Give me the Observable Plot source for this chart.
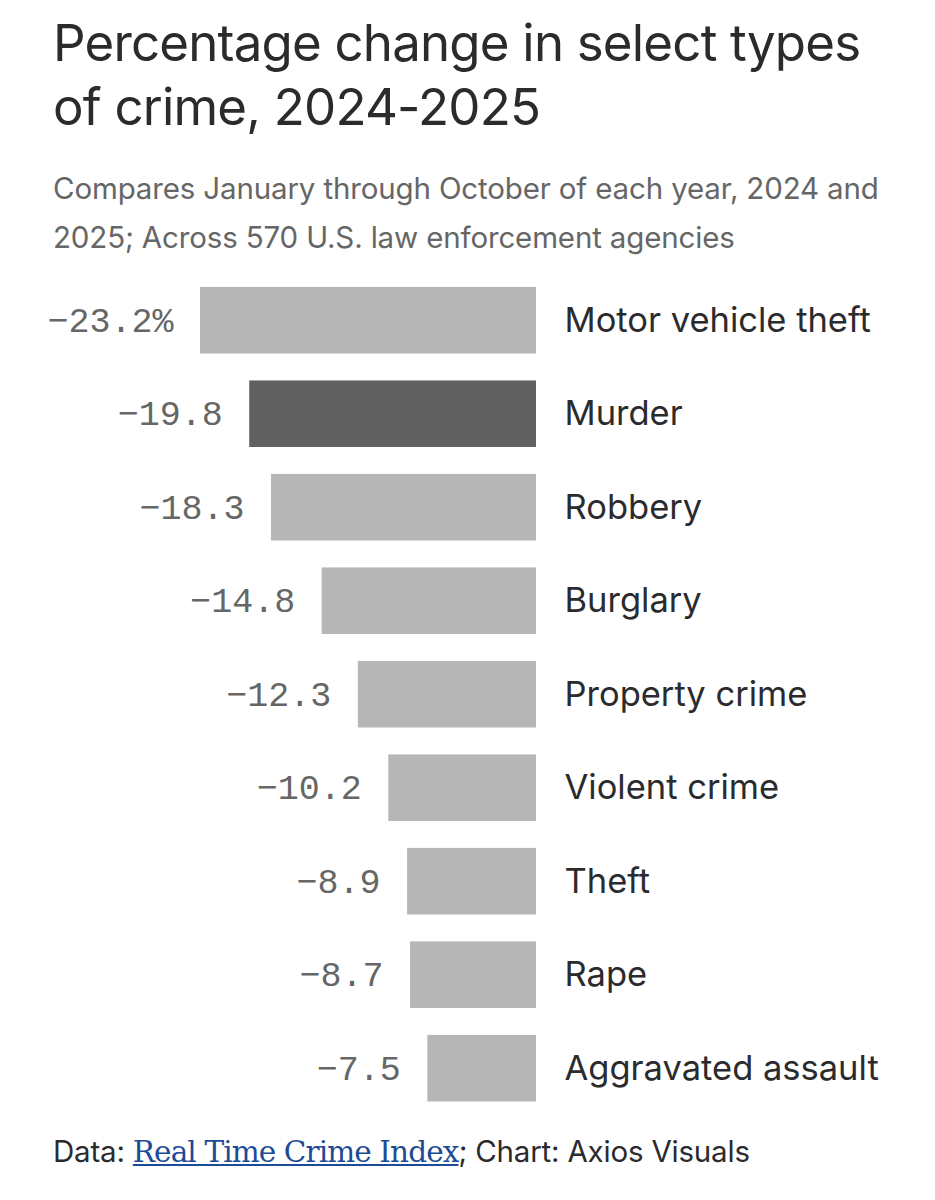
<!DOCTYPE html>
<html>
<head>
<meta charset="utf-8">
<script src="https://cdn.jsdelivr.net/npm/d3@7"></script>
<script src="https://cdn.jsdelivr.net/npm/@observablehq/plot@0.6"></script>
<style>
  html, body { margin: 0; padding: 0; background: #fff; }
  body { width: 935px; height: 1200px; position: relative; overflow: hidden; font-family: Inter, "Noto Sans", sans-serif; }
  #title { position: absolute; left: 53px; top: 11px; white-space: nowrap; font-size: 51px; line-height: 64px; color: #2b2b2e; letter-spacing: -0.8px; font-weight: 400; }
  #subtitle { position: absolute; left: 53px; top: 164px; white-space: nowrap; font-size: 29.5px; line-height: 49px; color: #666; letter-spacing: -0.15px; }
  #chart { position: absolute; left: 0; top: 255px; }
  #footer { position: absolute; left: 53px; top: 1133px; font-size: 29.5px; color: #2b2b2e; letter-spacing: -0.2px; white-space: nowrap; }
  #footer a { font-family: "DejaVu Serif", "Liberation Serif", serif; color: #1d4b96; text-decoration: underline; letter-spacing: -0.9px; }
</style>
</head>
<body>
<div id="title">Percentage change in select types<br>of crime, 2024-2025</div>
<div id="subtitle">Compares January through October of each year, 2024 and<br>2025; Across 570 U.S. law enforcement agencies</div>
<div id="chart"></div>
<div id="footer">Data: <a href="#">Real Time Crime Index</a>; Chart: Axios Visuals</div>
<script>
const categories = ["Motor vehicle theft", "Murder", "Robbery", "Burglary", "Property crime", "Violent crime", "Theft", "Rape", "Aggravated assault"];
const values = [-23.2, -19.8, -18.3, -14.8, -12.3, -10.2, -8.9, -8.7, -7.5];
const valueLabels = ["−23.2%", "−19.8", "−18.3", "−14.8", "−12.3", "−10.2", "−8.9", "−8.7", "−7.5"];
const highlight = "Murder";

const data = categories.map((c, i) => ({category: c, value: values[i], label: valueLabels[i]}));

const chart = Plot.plot({
  width: 935,
  height: 880,
  marginLeft: 200,
  marginRight: 399,
  marginTop: 5,
  marginBottom: 6.6,
  x: {domain: [-23.2, 0], axis: null},
  y: {domain: categories, padding: 0.288, round: false, axis: null},
  style: {background: "transparent"},
  marks: [
    Plot.barX(data, {
      x1: 0, x2: "value", y: "category",
      fill: d => d.category === highlight ? "#616161" : "#b6b6b6"
    }),
    Plot.text(data, {
      x: "value", y: "category", text: "label",
      textAnchor: "end", dx: -27,
      fontFamily: "Liberation Mono, DejaVu Sans Mono, monospace",
      fontSize: 35, fill: "#666"
    }),
    Plot.text(data, {
      x: 0, y: "category", text: "category",
      textAnchor: "start", dx: 28,
      fontFamily: "Inter, Noto Sans, sans-serif",
      fontSize: 34.5,
      letterSpacing: "-0.2px",
      fontWeight: d => d.category === highlight ? 700 : 400,
      fill: "#2b2b2e"
    })
  ]
});
document.getElementById("chart").appendChild(chart);
</script>
</body>
</html>
